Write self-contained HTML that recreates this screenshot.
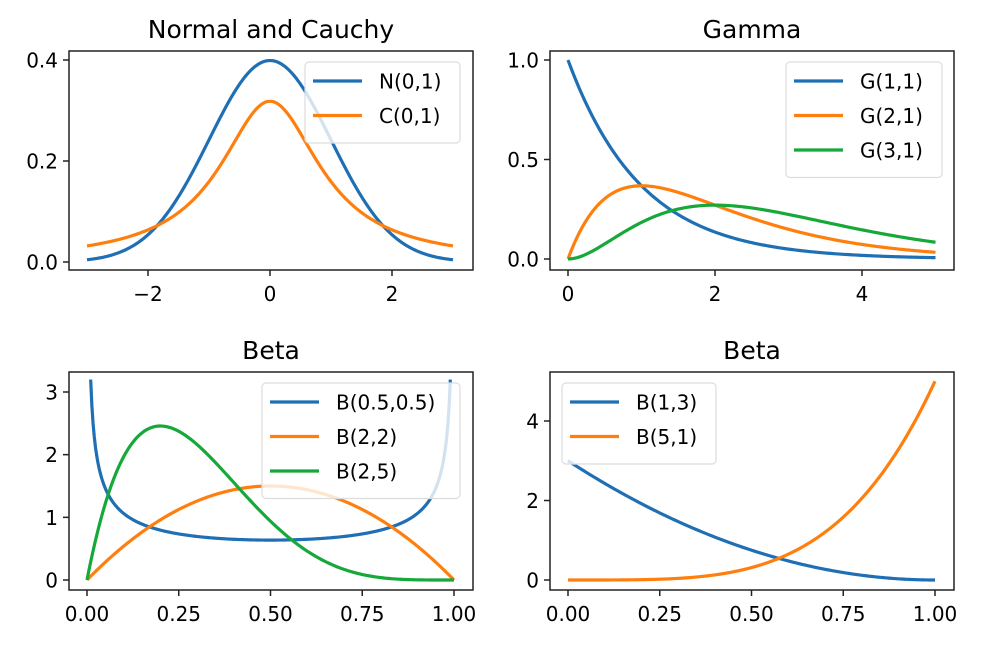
<!DOCTYPE html>
<html><head><meta charset="utf-8"><style>
html,body{margin:0;padding:0;background:#fff;}
svg{display:block;font-family:"DejaVu Sans","Liberation Sans",sans-serif;}
</style></head><body>
<svg id="fig" width="1001" height="652" viewBox="0 0 1001 652"></svg>
<script>
// ---- data (distribution parameters and axis ticks) ----
const normalParams = [0, 1];        // mu, sigma
const cauchyParams = [0, 1];        // x0, gamma
const gammaShapes = [1, 2, 3];
const gammaScales = [1, 1, 1];
const betaA1 = [0.5, 2, 2];
const betaB1 = [0.5, 2, 5];
const betaA2 = [1, 5];
const betaB2 = [3, 1];
const xTicks1 = [-2, 0, 2];
const yTicks1 = [0.0, 0.2, 0.4];
const xTicks2 = [0, 2, 4];
const yTicks2 = [0.0, 0.5, 1.0];
const xTicksBeta = [0, 0.25, 0.5, 0.75, 1.0];
const yTicks3 = [0, 1, 2, 3];
const yTicks4 = [0, 2, 4];
const labels1 = ["N(0,1)", "C(0,1)"];
const labels2 = ["G(1,1)", "G(2,1)", "G(3,1)"];
const labels3 = ["B(0.5,0.5)", "B(2,2)", "B(2,5)"];
const labels4 = ["B(1,3)", "B(5,1)"];

const NS = "http://www.w3.org/2000/svg";
const svg = document.getElementById("fig");
const COLORS = ["#1f6fb4", "#ff7f0e", "#17a83a"];
function mk(tag, attrs, parent) {
  const e = document.createElementNS(NS, tag);
  for (const k in attrs) e.setAttribute(k, attrs[k]);
  (parent || svg).appendChild(e);
  return e;
}
function gammaFn(z) { // Lanczos
  if (z < 0.5) return Math.PI / (Math.sin(Math.PI * z) * gammaFn(1 - z));
  z -= 1;
  const g = 7, c = [0.99999999999980993, 676.5203681218851, -1259.1392167224028, 771.32342877765313, -176.61502916214059, 12.507343278686905, -0.13857109526572012, 9.9843695780195716e-6, 1.5056327351493116e-7];
  let x = c[0];
  for (let i = 1; i < g + 2; i++) x += c[i] / (z + i);
  const t = z + g + 0.5;
  return Math.sqrt(2 * Math.PI) * Math.pow(t, z + 0.5) * Math.exp(-t) * x;
}
function betaPdf(x, a, b) { return Math.pow(x, a - 1) * Math.pow(1 - x, b - 1) * gammaFn(a + b) / (gammaFn(a) * gammaFn(b)); }
function fmt(v, d) { const s = v.toFixed(d); return s.replace("-", "\u2212"); }

function panel(p) {
  const g = mk("g", {});
  
  
  const sx = v => p.px0 + (v - p.xd0) / (p.xd1 - p.xd0) * (p.px1 - p.px0);
  const sy = v => p.py0 + (v - p.yd0) / (p.yd1 - p.yd0) * (p.py1 - p.py0);
  const t = mk("text", {x: (p.bx0 + p.bx1) / 2, y: p.by0 - 13, "text-anchor": "middle", "font-size": 25, fill: "#000"}, g);
  t.textContent = p.title;
  
  
  const cp = "clip-" + p.name;
  const cd = mk("clipPath", {id: cp}, g);
  mk("rect", {x: p.bx0, y: p.by0, width: p.bx1 - p.bx0, height: p.by1 - p.by0}, cd);
  p.series.forEach((s, i) => {
    let d = "";
    s.forEach((pt, j) => { d += (j ? "L" : "M") + sx(pt[0]).toFixed(2) + "," + sy(pt[1]).toFixed(2); });
    const path = mk("path", {d: d, fill: "none", stroke: COLORS[i], "stroke-width": 3.2, "clip-path": "url(#" + cp + ")"}, g);
    
    
  });
  const box = mk("rect", {x: p.bx0, y: p.by0, width: p.bx1 - p.bx0, height: p.by1 - p.by0, fill: "none", stroke: "#222", "stroke-width": 1.5}, g);
  
  
  p.xt.forEach(v => {
    const x = sx(v);
    mk("line", {x1: x, x2: x, y1: p.by1, y2: p.by1 + 6, stroke: "#222", "stroke-width": 1.5}, g);
    const tx = mk("text", {x: x, y: p.by1 + 31, "text-anchor": "middle", "font-size": 20, fill: "#000"}, g);
    tx.textContent = fmt(v, p.xdec);
    
    
  });
  p.yt.forEach(v => {
    const y = sy(v);
    mk("line", {x1: p.bx0, x2: p.bx0 - 6, y1: y, y2: y, stroke: "#222", "stroke-width": 1.5}, g);
    const ty = mk("text", {x: p.bx0 - 11, y: y + 7.5, "text-anchor": "end", "font-size": 20, fill: "#000"}, g);
    ty.textContent = fmt(v, p.ydec);
    
    
  });
  const L = p.legend;
  const lg = mk("g", {}, g);
  
  
  mk("rect", {x: L[0], y: L[1], width: L[2], height: 12 + 34.5 * p.labels.length, rx: 4, fill: "rgba(255,255,255,0.8)", stroke: "#ddd", "stroke-width": 1.2}, lg);
  p.labels.forEach((lab, i) => {
    const y = L[1] + 19 + i * 34.5;
    mk("line", {x1: L[0] + 8, x2: L[0] + 57, y1: y, y2: y, stroke: COLORS[i], "stroke-width": 3.2}, lg);
    const lt = mk("text", {x: L[0] + 74, y: y + 7.5, "font-size": 20, fill: "#000"}, lg);
    lt.textContent = lab;
    
    
  });
}
function lin(a, b, n) { const r = []; for (let i = 0; i < n; i++) r.push(a + (b - a) * i / (n - 1)); return r; }

// panel 1
const xs1 = lin(-3, 3, 200);
panel({name: "normal-cauchy-plot", title: "Normal and Cauchy", bx0: 69, bx1: 473, by0: 51, by1: 270,
  px0: 148, px1: 392, xd0: -2, xd1: 2, py0: 262, py1: 60, yd0: 0, yd1: 0.4,
  xt: xTicks1, yt: yTicks1, xdec: 0, ydec: 1, labels: labels1, legend: [305, 62, 155],
  series: [
    xs1.map(x => [x, Math.exp(-0.5 * Math.pow((x - normalParams[0]) / normalParams[1], 2)) / (normalParams[1] * Math.sqrt(2 * Math.PI))]),
    xs1.map(x => [x, 1 / (Math.PI * cauchyParams[1] * (1 + Math.pow((x - cauchyParams[0]) / cauchyParams[1], 2)))])
  ]});
// panel 2
const xs2 = lin(0, 5, 200);
panel({name: "gamma-plot", title: "Gamma", bx0: 550, bx1: 954, by0: 51, by1: 270,
  px0: 568, px1: 862, xd0: 0, xd1: 4, py0: 259, py1: 60, yd0: 0, yd1: 1,
  xt: xTicks2, yt: yTicks2, xdec: 0, ydec: 1, labels: labels2, legend: [786, 62, 156],
  series: gammaShapes.map((k, i) => xs2.map(x => [x, Math.pow(x, k - 1) * Math.exp(-x / gammaScales[i]) / (gammaFn(k) * Math.pow(gammaScales[i], k))]))});
// panel 3
panel({name: "beta-plot-1", title: "Beta", bx0: 69, bx1: 473, by0: 372, by1: 590,
  px0: 87, px1: 454, xd0: 0, xd1: 1, py0: 580, py1: 392, yd0: 0, yd1: 3,
  xt: xTicksBeta, yt: yTicks3, xdec: 2, ydec: 0, labels: labels3, legend: [262, 383, 198],
  series: betaA1.map((a, i) => {
    const xs = a < 1 || betaB1[i] < 1 ? lin(0.01, 0.99, 300) : lin(0, 1, 200);
    return xs.map(x => [x, betaPdf(x, a, betaB1[i])]);
  })});
// panel 4
const xs4 = lin(0, 1, 200);
panel({name: "beta-plot-2", title: "Beta", bx0: 550, bx1: 954, by0: 372, by1: 590,
  px0: 568, px1: 935, xd0: 0, xd1: 1, py0: 580, py1: 421, yd0: 0, yd1: 4,
  xt: xTicksBeta, yt: yTicks4, xdec: 2, ydec: 0, labels: labels4, legend: [562, 383, 154],
  series: betaA2.map((a, i) => xs4.map(x => [x, betaPdf(x, a, betaB2[i])]))});
</script>
</body></html>
